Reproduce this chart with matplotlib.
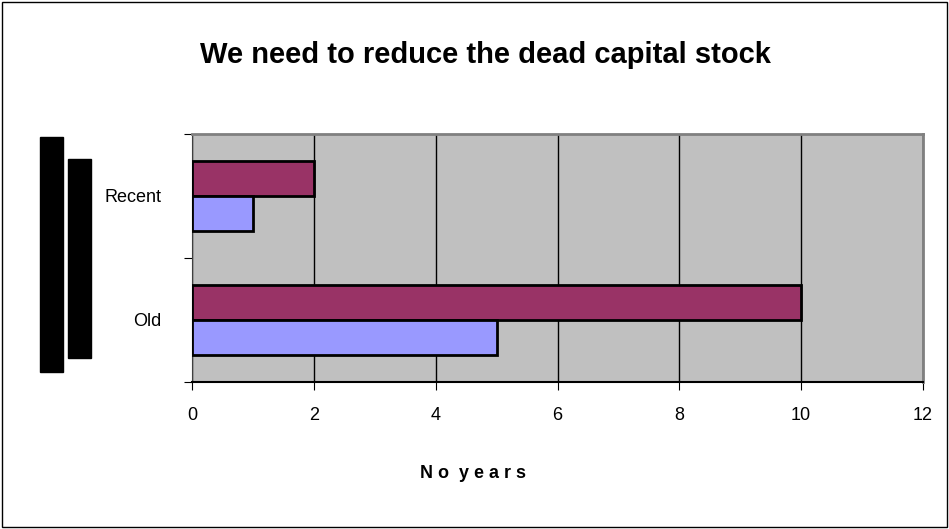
import matplotlib.pyplot as plt
from matplotlib.patches import Rectangle

plt.rcParams['font.family'] = ['Liberation Sans Narrow', 'Liberation Sans', 'DejaVu Sans']

categories = ['Old', 'Recent']
series_a = [10, 2]   # purple
series_b = [5, 1]    # blue
xticks = [0, 2, 4, 6, 8, 10, 12]

fig = plt.figure(figsize=(9.49, 5.29), dpi=100)
W, H = 949, 529
ax = fig.add_axes([192 / W, 1 - 382 / H, (923 - 192) / W, (382 - 134) / H])
ax.set_facecolor('#C0C0C0')

bh = 1 / 3.5
pos = [0.5, 1.5]
ax.barh([p + bh / 2 for p in pos], series_a, height=bh, color='#993366',
        edgecolor='black', linewidth=2, zorder=3)
ax.barh([p - bh / 2 for p in pos], series_b, height=bh, color='#9999FF',
        edgecolor='black', linewidth=2, zorder=3)

ax.set_xlim(0, 12)
ax.set_ylim(0, 2)
ax.set_xticks(xticks)
ax.set_xticklabels([str(t) for t in xticks], fontsize=13)
ax.set_yticks([0, 1, 2])
ax.set_yticklabels([])
ax.set_yticks(pos, minor=True)
ax.set_yticklabels(categories, minor=True, fontsize=13)
ax.tick_params(axis='y', which='minor', length=0, pad=22)
ax.tick_params(axis='y', which='major', length=6, direction='out')
ax.tick_params(axis='x', length=6, direction='out', pad=12)
ax.grid(axis='x', color='black', linewidth=1, zorder=1)
for s in ['top', 'right']:
    ax.spines[s].set_color('#808080')
    ax.spines[s].set_linewidth(2)
ax.spines['left'].set_color('#404040')
ax.spines['bottom'].set_color('black')
ax.spines['bottom'].set_linewidth(1.5)

fig.text(473 / W, 1 - 473 / H, 'N o  y e a r s', ha='center', va='center',
         fontsize=13, fontweight='bold')
fig.text(485 / W, 1 - 55 / H, 'We need to reduce the dead capital stock',
         ha='center', va='center', fontsize=21, fontweight='bold')

# legend key blocks on the left
fig.patches.append(Rectangle((40 / W, 1 - 372 / H), 23 / W, 235 / H,
                             transform=fig.transFigure, color='black'))
fig.patches.append(Rectangle((68 / W, 1 - 358 / H), 23 / W, 199 / H,
                             transform=fig.transFigure, color='black'))
# outer border
fig.patches.append(Rectangle((2 / W, 2 / H), 1 - 4 / W, 1 - 4 / H,
                             transform=fig.transFigure, fill=False,
                             edgecolor='black', linewidth=1))

fig.savefig('out.png', dpi=100)
